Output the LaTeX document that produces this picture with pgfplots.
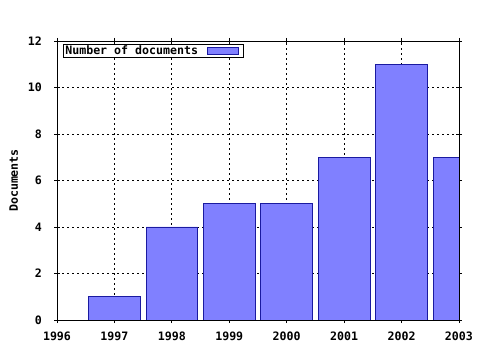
\documentclass[border=0pt]{standalone}
\usepackage{fontspec}
\setmainfont{DejaVu Sans Mono}
\usepackage{pgfplots}
\pgfplotsset{compat=1.18}
\definecolor{barfill}{HTML}{8080FF}
\definecolor{baredge}{HTML}{1A1AA0}
\newcommand{\gfont}{\fontsize{11.6bp}{14bp}\selectfont\bfseries}
\begin{document}
\gfont
\begin{tikzpicture}
\useasboundingbox (0,0) rectangle (480bp,350bp);
\fill[white] (0,0) rectangle (480bp,350bp);
\begin{axis}[
  at={(57bp,30bp)}, anchor=south west,
  scale only axis, width=402bp, height=279bp,
  xmin=1996, xmax=2003, ymin=0, ymax=12,
  xtick={1996,...,2003}, ytick={0,2,...,12},
  minor x tick num=3,
  tick align=center,
  major tick length=6bp, minor tick length=4bp,
  tick style={black, line width=0.8bp},
  axis line style={line width=0.8bp},
  /pgf/number format/assume math mode=true,
  xticklabel style={/pgf/number format/1000 sep=, font=\gfont, yshift=-5bp},
  yticklabel style={font=\gfont, xshift=-8bp},
  grid=major,
  grid style={black, line width=0.8bp, dash pattern=on 1.5bp off 3.5bp},
  ylabel={Documents},
  ylabel style={font=\gfont, yshift=2bp},
  legend plot pos=right,
  legend style={at={(rel axis cs:0.017,0.989)}, anchor=north west,
    draw=black, line width=0.8bp, inner sep=0.5bp, outer sep=0pt,
    font=\gfont,
    nodes={inner sep=1bp}},
  legend image code/.code={\path[draw=none, fill=none] (0bp,0bp) -- (44bp,0bp); \draw[#1, line width=0.8bp] (8bp,-3.5bp) rectangle (39bp,3.5bp);},
]
\addplot[ybar, bar width=0.9, fill=barfill, draw=baredge, line width=0.9bp]
  coordinates {(1997,1) (1998,4) (1999,5) (2000,5) (2001,7) (2002,11) (2003,7)};
\addlegendentry{Number of documents}
\end{axis}
\end{tikzpicture}
\end{document}
